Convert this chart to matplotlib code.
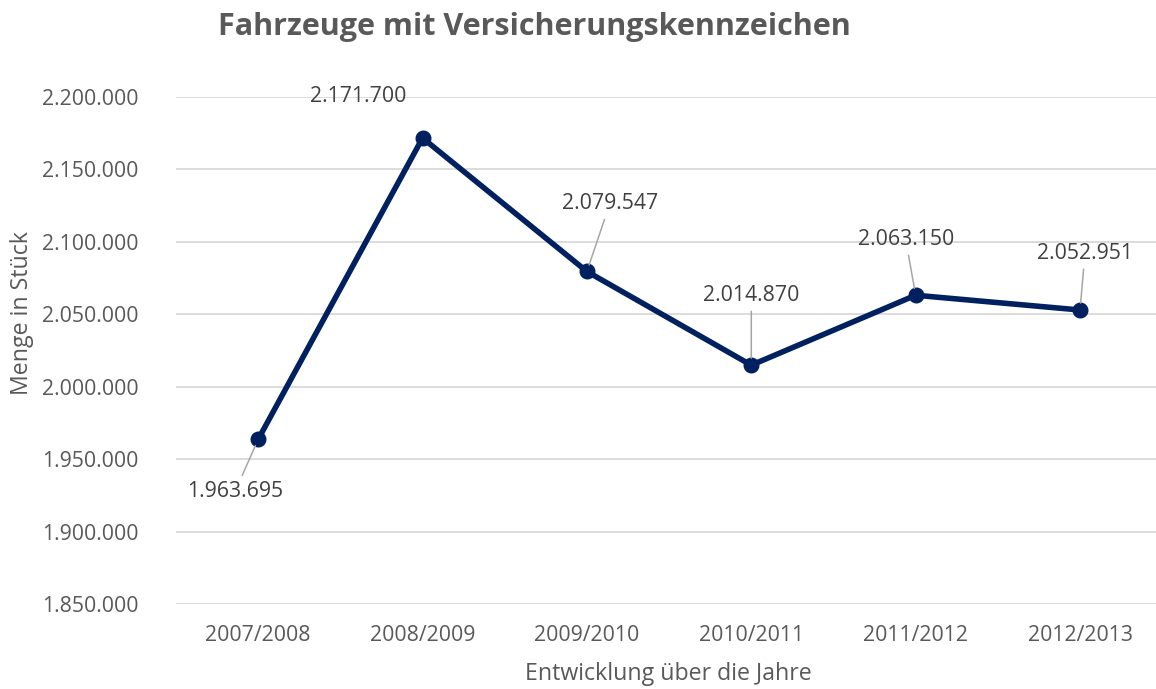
import matplotlib
matplotlib.use("Agg")
import matplotlib.pyplot as plt
from matplotlib.ticker import FuncFormatter

plt.rcParams['font.family'] = ['Open Sans', 'DejaVu Sans']

categories = ["2007/2008", "2008/2009", "2009/2010", "2010/2011", "2011/2012", "2012/2013"]
values = [1963695, 2171700, 2079547, 2014870, 2063150, 2052951]
label_offsets_px = [(-23, -52), (-64, 41), (23, 68), (0, 70), (-10, 56), (5, 57)]
leader = [True, False, True, True, True, True]

title = "Fahrzeuge mit Versicherungskennzeichen"
xlabel = "Entwicklung über die Jahre"
ylabel = "Menge in Stück"

def de_fmt(v, pos=None):
    return f"{int(round(v)):,}".replace(",", ".")

fig = plt.figure(figsize=(11.56, 6.89), dpi=100)
W, H = 1156, 689
ax = fig.add_axes([176 / W, 1 - 604 / H, 1 - 176 / W, (604 - 97) / H])

x = list(range(len(categories)))
ax.plot(x, values, color="#002060", lw=4.0, marker="o", markersize=10.5,
        solid_joinstyle="miter", zorder=3)

ax.set_xlim(-0.5, 5 + 76 / 164.4)
ax.set_ylim(1850000, 2200000)
ax.set_yticks(range(1850000, 2200001, 50000))
ax.yaxis.set_major_formatter(FuncFormatter(de_fmt))
ax.set_xticks(x)
ax.set_xticklabels(categories)
ax.grid(axis="y", color="#d9d9d9", lw=1.3)
ax.set_axisbelow(True)
for s in ax.spines.values():
    s.set_visible(False)
ax.tick_params(length=0, labelsize=15.3, colors="#595959")
ax.tick_params(axis="y", pad=27)
ax.tick_params(axis="x", pad=15)

for xi, v, off, ld in zip(x, values, label_offsets_px, leader):
    kw = {}
    if ld:
        kw["arrowprops"] = dict(arrowstyle="-", color="#a6a6a6", lw=1.1,
                                shrinkA=2, shrinkB=5)
    ax.annotate(de_fmt(v), xy=(xi, v), xytext=off, textcoords="offset pixels",
                ha="center", va="center", fontsize=15.3, color="#404040", **kw)

fig.text(218 / W, 1 - 27 / H, title, fontsize=22, fontweight="bold",
         color="#595959", ha="left", va="center")
fig.text(668 / W, 1 - 674 / H, xlabel, fontsize=16.7, color="#595959",
         ha="center", va="center")
fig.text(22 / W, 1 - 313 / H, ylabel, fontsize=16.7, color="#595959",
         ha="center", va="center", rotation=90)

fig.savefig("out.png", dpi=100)
